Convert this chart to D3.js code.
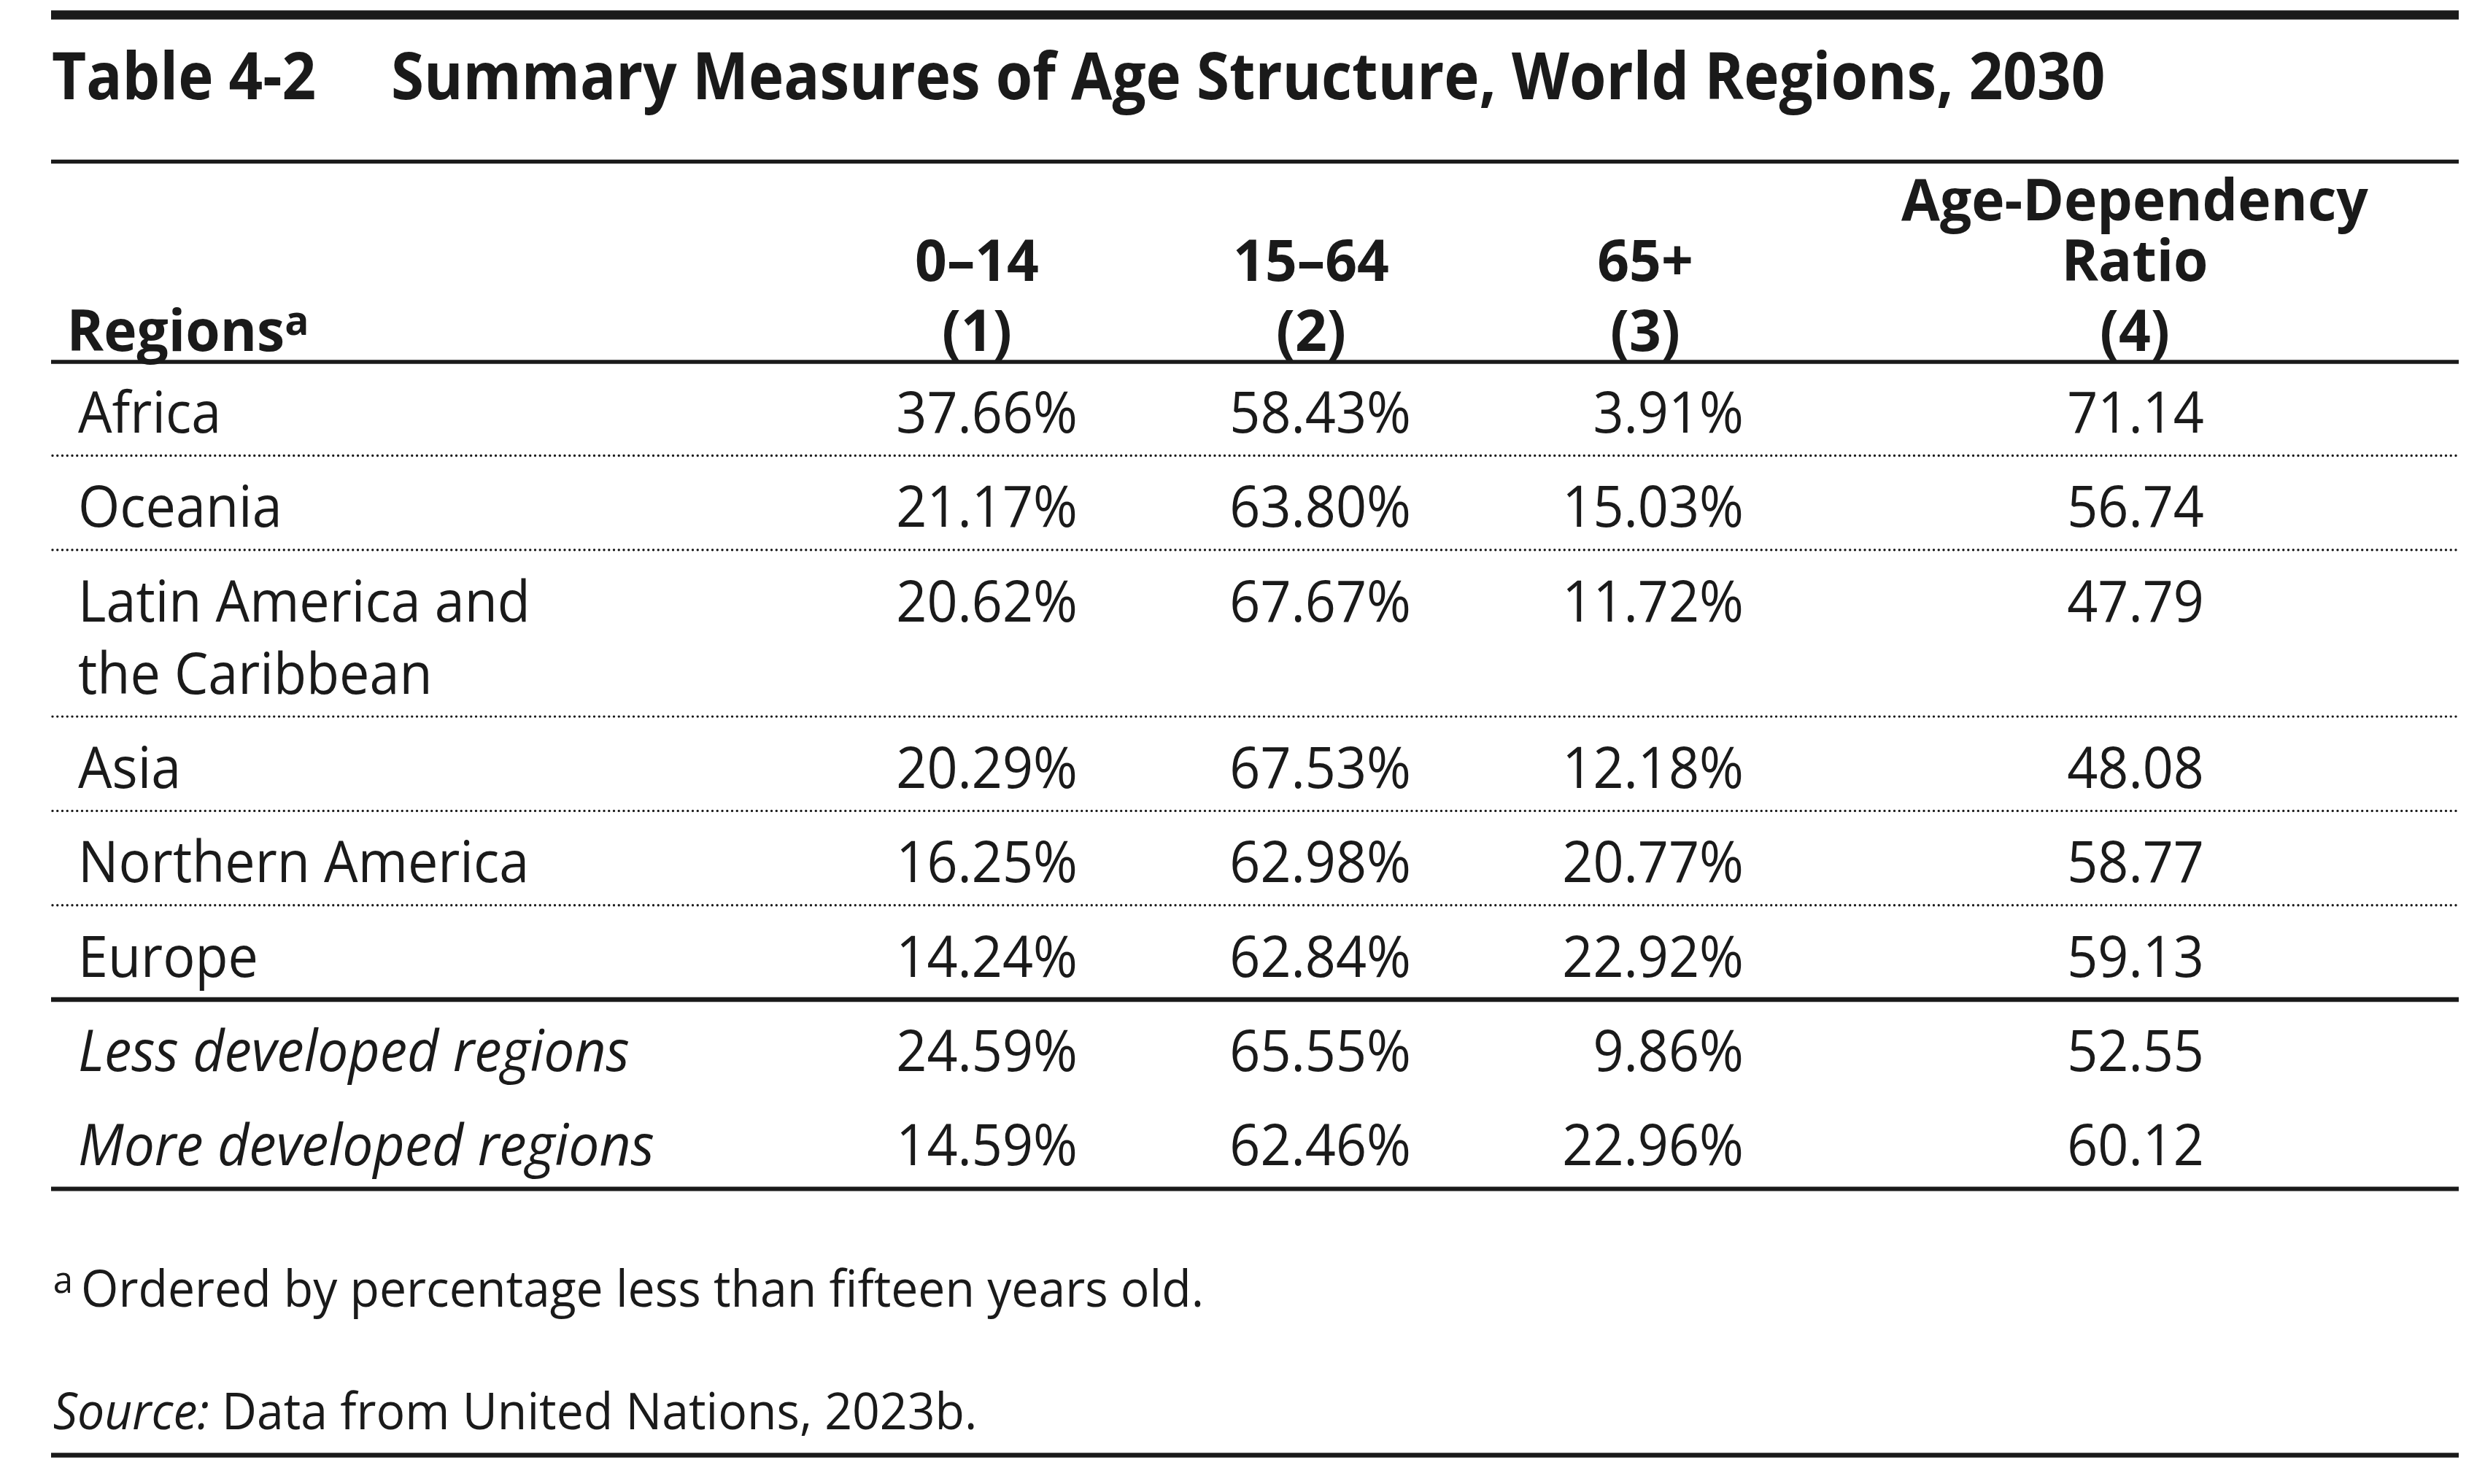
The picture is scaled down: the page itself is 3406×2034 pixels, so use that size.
<!DOCTYPE html>
<html>
<head>
<meta charset="utf-8">
<script src="https://cdn.jsdelivr.net/npm/d3@7"></script>
<style>
  html, body { margin: 0; padding: 0; background: #ffffff; }
  svg { display: block; }
  text { font-family: "Open Sans", "Noto Sans", sans-serif; fill: #1a1a1a; }
</style>
</head>
<body>
<svg id="chart" width="3406" height="2034"></svg>
<script>
// ---------------- DATA ----------------
const titleNumber = "Table 4-2";
const titleText = "Summary Measures of Age Structure, World Regions, 2030";
const stubHeader = "Regions";
const stubMark = "a";
const columnHeaders = ["0–14\n(1)", "15–64\n(2)", "65+\n(3)", "Age-Dependency\nRatio\n(4)"];
const regions = [
  "Africa",
  "Oceania",
  "Latin America and\nthe Caribbean",
  "Asia",
  "Northern America",
  "Europe",
  "Less developed regions",
  "More developed regions"
];
const aggregateRegions = ["Less developed regions", "More developed regions"];
const age0to14 = [37.66, 21.17, 20.62, 20.29, 16.25, 14.24, 24.59, 14.59];
const age15to64 = [58.43, 63.80, 67.67, 67.53, 62.98, 62.84, 65.55, 62.46];
const age65plus = [3.91, 15.03, 11.72, 12.18, 20.77, 22.92, 9.86, 22.96];
const dependencyRatio = [71.14, 56.74, 47.79, 48.08, 58.77, 59.13, 52.55, 60.12];
const footnoteMark = "a";
const footnoteText = "Ordered by percentage less than fifteen years old.";
const sourceLabel = "Source:";
const sourceText = " Data from United Nations, 2023b.";

// ---------------- LAYOUT ----------------
const W = 3406, H = 2034;
const left = 70, right = 3370;
const ink = "#1a1a1a";
const svg = d3.select("#chart");
svg.append("rect").attr("width", W).attr("height", H).attr("fill", "#ffffff");

function measure(str, size, weight, style) {
  const t = svg.append("text")
    .attr("font-size", size).attr("font-weight", weight).attr("font-style", style)
    .text(str);
  const w = t.node().getComputedTextLength();
  t.remove();
  return w;
}
// horizontal condensing so that the humanist sans matches the reference's narrower face
const sxRegular = 620 / measure("Latin America and", 78, 400, "normal");
const sxItalic = 790 / measure("More developed regions", 78, 400, "italic");
const sxTitle = 2350 / measure(titleText, 90, 700, "normal");
const sxHead = 640 / measure("Age-Dependency", 78, 700, "normal");

// one <text> per cell; several lines become tspans at given baselines (relative to y0)
function label(parent, x, y0, lines, offsets, o) {
  const g = parent.append("g").attr("transform", `translate(${x},${y0}) scale(${o.sx},1)`);
  const t = g.append("text")
    .attr("x", 0).attr("y", 0)
    .attr("text-anchor", o.anchor || "start")
    .attr("font-size", o.size)
    .attr("font-weight", o.weight || 400)
    .attr("font-style", o.style || "normal");
  if (lines.length === 1) t.text(lines[0]);
  else lines.forEach((ln, k) => t.append("tspan").attr("x", 0).attr("y", offsets[k]).text(ln));
  return t;
}

// columns
const colKeys = ["c1", "c2", "c3", "c4"];
const colValues = [age0to14, age15to64, age65plus, dependencyRatio];
const pct = v => d3.format(".2f")(v) + "%";
const colFormat = [pct, pct, pct, v => d3.format(".2f")(v)];
const colCenter = d3.scaleOrdinal().domain(colKeys).range([1339, 1797, 2255, 2926]);
const colRight = d3.scaleOrdinal().domain(colKeys).range([1477, 1934, 2390, 3021]);

// rows
const rowPitch = 129.3, extraLine = 99;
const yRow = d3.scaleLinear().domain([0, 1]).range([593, 593 + rowPitch]);
let extra = 0;
const rows = regions.map((r, i) => {
  const lines = r.split("\n");
  const base = yRow(i) + extra * extraLine;
  extra += lines.length - 1;
  return { name: r, lines, base, last: base + (lines.length - 1) * extraLine, i };
});

// ---------------- RULES ----------------
const rules = svg.append("g");
function hline(y, w, dotted) {
  const l = rules.append("line")
    .attr("x1", left).attr("x2", right).attr("y1", y).attr("y2", y)
    .attr("stroke", ink).attr("stroke-width", w);
  if (dotted) l.attr("stroke-dasharray", "0 6.75").attr("stroke-linecap", "round").attr("x1", left + 2);
  return l;
}
hline(20.5, 12.5);
hline(221.5, 5.5);
hline(496, 5.5);
rows.forEach((r, i) => {
  const y = r.last + 31.5;
  if (i <= 4) hline(y, 3.4, true);
  else if (i === 5) hline(y, 6.5);
  else if (i === 7) hline(y + 1, 6);
});
hline(1994.5, 6.5);

// ---------------- TITLE ----------------
const title = svg.append("g");
label(title, 71, 136, [titleNumber], null, { sx: sxTitle, size: 90, weight: 700 });
label(title, 536, 136, [titleText], null, { sx: sxTitle, size: 90, weight: 700 });

// ---------------- HEADER ----------------
const header = svg.append("g");
const stub = label(header, 91.5, 481, [stubHeader], null, { sx: sxHead, size: 78, weight: 700 });
stub.append("tspan").attr("font-size", 56).attr("dy", -22).text(stubMark);

const headBase = [481, 385, 302];   // baselines of last, second-last, third-last header line
columnHeaders.forEach((h, c) => {
  const lines = h.split("\n");
  const n = lines.length;
  const offs = lines.map((ln, k) => headBase[n - 1 - k] - headBase[0]);
  label(header, colCenter(colKeys[c]), headBase[0], lines, offs,
    { sx: sxHead, size: 78, weight: 700, anchor: "middle" });
});

// ---------------- BODY ----------------
const body = svg.append("g");
rows.forEach(r => {
  const italic = aggregateRegions.includes(r.name);
  label(body, 107, r.base, r.lines, r.lines.map((ln, k) => k * extraLine),
    { sx: italic ? sxItalic : sxRegular, size: 78, style: italic ? "italic" : "normal" });
  colKeys.forEach((key, c) => {
    label(body, colRight(key), r.base, [colFormat[c](colValues[c][r.i])], null,
      { sx: sxRegular, size: 78, anchor: "end" });
  });
});

// ---------------- NOTES ----------------
const notes = svg.append("g");
label(notes, 72.7, 1772, [footnoteMark], null, { sx: sxRegular, size: 52 });
label(notes, 111, 1791, [footnoteText], null, { sx: sxRegular, size: 70 });
const src = label(notes, 72.7, 1959, [""], null, { sx: sxRegular, size: 70 });
src.text(null);
src.append("tspan").attr("font-style", "italic").text(sourceLabel);
src.append("tspan").text(sourceText);
</script>
</body>
</html>
